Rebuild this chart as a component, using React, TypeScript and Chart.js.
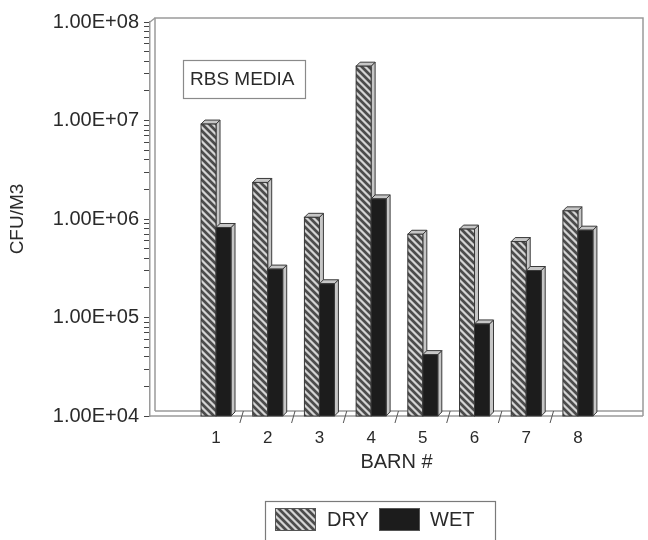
import { useEffect, useRef } from 'react';
import { Chart, registerables } from 'chart.js';

Chart.register(...registerables);

const barns = [1, 2, 3, 4, 5, 6, 7, 8];
const barnLabels = ['1', '2', '3', '4', '5', '6', '7', '8'];
const dryValues = [9.2e6, 2.35e6, 1.04e6, 3.56e7, 7.0e5, 7.9e5, 5.9e5, 1.21e6];
const wetValues = [8.2e5, 3.1e5, 2.2e5, 1.6e6, 4.2e4, 8.6e4, 3.0e5, 7.7e5];
const seriesLabels = ['DRY', 'WET'];
const yTickValues = [1e4, 1e5, 1e6, 1e7, 1e8];
const yTickLabels = ['1.00E+04', '1.00E+05', '1.00E+06', '1.00E+07', '1.00E+08'];
const xTitle = 'BARN #';
const yTitle = 'CFU/M3';
const boxText = 'RBS MEDIA';

const FONT = '"Liberation Sans", Arial, Helvetica, sans-serif';
const TEXT = '#2a2a2a';
const WET_FILL = '#1c1c1c';
const FACE = '#c6c6c6';
const EDGE = '#3a3a3a';
const FRAME = '#9a9a9a';

function makeHatch(): CanvasPattern | string {
  const c = document.createElement('canvas');
  const n = 7;
  c.width = n;
  c.height = n;
  const g = c.getContext('2d');
  if (!g) return '#888';
  const img = g.createImageData(n, n);
  for (let y = 0; y < n; y++) {
    for (let x = 0; x < n; x++) {
      const d = (((x - y) % n) + n) % n;
      const v = d < 3 ? 0x4c : d === 3 || d === 6 ? 0x9a : 0xd4;
      const k = (y * n + x) * 4;
      img.data[k] = v;
      img.data[k + 1] = v;
      img.data[k + 2] = v;
      img.data[k + 3] = 255;
    }
  }
  g.putImageData(img, 0, 0);
  const p = g.createPattern(c, 'repeat');
  return p || '#888';
}

export default function App() {
  const ref = useRef<HTMLCanvasElement | null>(null);

  useEffect(() => {
    const canvas = ref.current;
    if (!canvas) return;
    const hatch = makeHatch();
    const fills = [hatch, WET_FILL];

    const yTicks: { value: number; major: boolean }[] = [];
    for (let i = 0; i < yTickValues.length - 1; i++) {
      for (let k = 1; k <= 9; k++) yTicks.push({ value: yTickValues[i] * k, major: k === 1 });
    }
    yTicks.push({ value: yTickValues[yTickValues.length - 1], major: true });

    const decor = {
      id: 'decor',
      beforeDatasetsDraw(chart: any) {
        const ctx = chart.ctx as CanvasRenderingContext2D;
        const { left, right, top, bottom } = chart.chartArea;
        ctx.save();
        ctx.strokeStyle = FRAME;
        ctx.lineWidth = 1.5;
        // back wall
        ctx.beginPath();
        ctx.moveTo(left + 5, bottom - 5);
        ctx.lineTo(left + 5, top - 4);
        ctx.lineTo(right, top - 4);
        ctx.lineTo(right, bottom - 5);
        ctx.stroke();
        ctx.beginPath();
        ctx.moveTo(left, top);
        ctx.lineTo(left + 5, top - 4);
        ctx.stroke();
        // floor
        ctx.beginPath();
        ctx.moveTo(left + 5, bottom - 5);
        ctx.lineTo(right, bottom - 5);
        ctx.moveTo(left, bottom);
        ctx.lineTo(right, bottom);
        ctx.moveTo(right, bottom);
        ctx.lineTo(right, bottom - 5);
        ctx.stroke();
        // category separators on the floor
        const xs = chart.scales.x;
        ctx.strokeStyle = '#555';
        ctx.lineWidth = 1;
        for (let i = 0; i < barns.length - 1; i++) {
          const px = xs.getPixelForValue((barns[i] + barns[i + 1]) / 2);
          ctx.beginPath();
          ctx.moveTo(px - 2, bottom + 7);
          ctx.lineTo(px + 1.5, bottom - 5);
          ctx.stroke();
        }
        ctx.restore();
      },
      afterDatasetsDraw(chart: any) {
        const ctx = chart.ctx as CanvasRenderingContext2D;
        const metas = [chart.getDatasetMeta(0), chart.getDatasetMeta(1)];
        const dx = 4;
        const dy = 4;
        ctx.save();
        ctx.lineWidth = 1;
        ctx.strokeStyle = EDGE;
        for (let i = 0; i < barns.length; i++) {
          for (let d = 0; d < 2; d++) {
            const el = metas[d].data[i];
            const { x, y, base, width } = el.getProps(['x', 'y', 'base', 'width'], true);
            const l = x - width / 2;
            const r = x + width / 2;
            // side face
            ctx.beginPath();
            ctx.moveTo(r, y);
            ctx.lineTo(r + dx, y - dy);
            ctx.lineTo(r + dx, base - dy);
            ctx.lineTo(r, base);
            ctx.closePath();
            ctx.fillStyle = FACE;
            ctx.fill();
            ctx.stroke();
            // top face
            ctx.beginPath();
            ctx.moveTo(l, y);
            ctx.lineTo(l + dx, y - dy);
            ctx.lineTo(r + dx, y - dy);
            ctx.lineTo(r, y);
            ctx.closePath();
            ctx.fillStyle = FACE;
            ctx.fill();
            ctx.stroke();
            // front face
            ctx.fillStyle = fills[d] as any;
            ctx.fillRect(l, y, width, base - y);
            ctx.strokeRect(l, y, width, base - y);
          }
        }
        ctx.restore();
      },
      afterDraw(chart: any) {
        const ctx = chart.ctx as CanvasRenderingContext2D;
        ctx.save();
        // annotation box
        ctx.strokeStyle = '#8a8a8a';
        ctx.lineWidth = 1.2;
        ctx.strokeRect(183.5, 60.5, 122, 38);
        ctx.fillStyle = TEXT;
        ctx.font = `19px ${FONT}`;
        ctx.textBaseline = 'middle';
        ctx.textAlign = 'left';
        ctx.fillText(boxText, 190, 80);
        // legend
        ctx.strokeStyle = '#7a7a7a';
        ctx.strokeRect(265.5, 501.5, 230, 60);
        const sw = [
          { x: 275, tx: 327 },
          { x: 379, tx: 430 },
        ];
        ctx.font = `20px ${FONT}`;
        for (let d = 0; d < 2; d++) {
          ctx.fillStyle = fills[d] as any;
          ctx.fillRect(sw[d].x, 508, 41, 23);
          ctx.strokeStyle = '#555';
          ctx.lineWidth = 1;
          ctx.strokeRect(sw[d].x + 0.5, 508.5, 40, 22);
          ctx.fillStyle = TEXT;
          ctx.fillText(seriesLabels[d], sw[d].tx, 520);
        }
        ctx.restore();
      },
    };

    const chart = new Chart(canvas, {
      type: 'bar',
      data: {
        datasets: [
          {
            label: seriesLabels[0],
            data: barns.map((b, i) => ({ x: b, y: dryValues[i] })),
            backgroundColor: hatch as any,
            borderWidth: 0,
          },
          {
            label: seriesLabels[1],
            data: barns.map((b, i) => ({ x: b, y: wetValues[i] })),
            backgroundColor: WET_FILL,
            borderWidth: 0,
          },
        ],
      },
      options: {
        animation: false,
        responsive: false,
        devicePixelRatio: 1,
        events: [],
        layout: { padding: { top: 22, right: 5, left: 0, bottom: 0 } },
        datasets: { bar: { barPercentage: 1, categoryPercentage: 0.58 } },
        plugins: {
          legend: { display: false },
          tooltip: { enabled: false },
        },
        scales: {
          x: {
            type: 'linear',
            offset: false,
            min: -0.277,
            max: 9.259,
            grid: { display: false, drawTicks: false, offset: false },
            border: { display: false },
            afterBuildTicks: (s: any) => {
              s.ticks = barns.map((v) => ({ value: v }));
            },
            afterFit: (s: any) => {
              s.height = 124;
            },
            ticks: {
              autoSkip: false,
              maxRotation: 0,
              padding: 12,
              color: TEXT,
              font: { family: FONT, size: 17 },
              callback: (v: any) => {
                const i = barns.indexOf(Number(v));
                return i >= 0 ? barnLabels[i] : '';
              },
            },
            title: {
              display: true,
              text: xTitle,
              color: TEXT,
              font: { family: FONT, size: 20 },
              padding: { top: 4, bottom: 66 },
            },
          },
          y: {
            type: 'logarithmic',
            min: yTickValues[0],
            max: yTickValues[yTickValues.length - 1],
            afterBuildTicks: (s: any) => {
              s.ticks = yTicks.map((t) => ({ ...t }));
            },
            afterFit: (s: any) => {
              s.width = 150;
            },
            grid: {
              display: true,
              drawOnChartArea: false,
              drawTicks: true,
              tickLength: 6,
              color: '#444',
            },
            border: { display: true, color: FRAME, width: 1.5 },
            ticks: {
              autoSkip: false,
              padding: 5,
              color: TEXT,
              font: { family: FONT, size: 20 },
              callback: (v: any) => {
                const i = yTickValues.indexOf(Number(v));
                return i >= 0 ? yTickLabels[i] : '';
              },
            },
            title: {
              display: true,
              text: yTitle,
              color: TEXT,
              font: { family: FONT, size: 19 },
              padding: { top: 6, bottom: 0 },
            },
          },
        },
      },
      plugins: [decor],
    });

    return () => chart.destroy();
  }, []);

  return (
    <div style={{ position: 'fixed', left: 0, top: 0, width: 648, height: 540, background: '#fff' }}>
      <canvas ref={ref} width={648} height={540} style={{ display: 'block', width: 648, height: 540 }} />
    </div>
  );
}
